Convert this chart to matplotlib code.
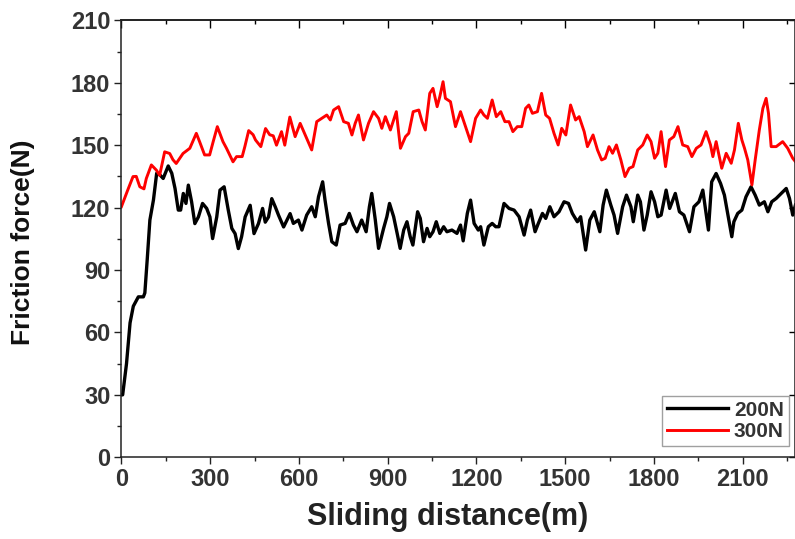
import matplotlib
matplotlib.use("Agg")
import matplotlib.pyplot as plt
from matplotlib.ticker import MultipleLocator

plt.rcParams['font.family'] = ['Liberation Sans', 'DejaVu Sans']
plt.rcParams['font.weight'] = 'bold'

# 300 N run
dist_300 = [0, 20, 39, 50, 62, 76, 84, 101, 118, 129, 146, 163, 174, 185, 208, 231, 253, 264,
            281, 298, 310, 324, 343, 355, 377, 389, 408, 417, 430, 445, 453, 471, 487, 501,
            513, 524, 541, 552, 569, 587, 604, 621, 643, 660, 677, 694, 706, 717, 734, 751,
            767, 779, 790, 801, 818, 835, 852, 869, 880, 892, 909, 929, 943, 960, 971, 986,
            1005, 1016, 1027, 1042, 1053, 1067, 1076, 1087, 1095, 1112, 1129, 1146, 1163,
            1180, 1197, 1214, 1225, 1237, 1253, 1267, 1282, 1296, 1310, 1323, 1338, 1353,
            1366, 1377, 1389, 1406, 1420, 1434, 1447, 1462, 1476, 1488, 1502, 1518, 1535,
            1547, 1564, 1575, 1594, 1609, 1623, 1635, 1648, 1660, 1673, 1688, 1702, 1716,
            1729, 1745, 1762, 1777, 1790, 1802, 1813, 1824, 1839, 1852, 1867, 1881, 1897,
            1914, 1928, 1943, 1959, 1976, 1991, 1999, 2010, 2029, 2044, 2061, 2072, 2085,
            2097, 2106, 2117, 2131, 2142, 2156, 2168, 2179, 2187, 2196, 2213, 2235, 2252,
            2269, 2278]
force_300 = [120.5, 128, 134.9, 135, 130, 129, 134, 140.5, 138, 135.5, 146.8, 146, 143, 141.2,
             146, 148.5, 155.7, 151.7, 145.3, 145.3, 151.7, 158.9, 151.7, 148.5, 142, 144.5,
             144.5, 149.3, 157, 155, 152.5, 149.3, 158, 155, 154.5, 150, 156.5, 150, 163.5,
             154.1, 160.5, 154.9, 147.7, 161.3, 162.9, 164.5, 162.1, 166.9, 168.5, 161.3,
             160.5, 154.9, 160.5, 164.5, 152.5, 160.5, 166.1, 162.9, 158.1, 163.7, 157.3,
             166.1, 148.5, 154.1, 155.7, 166.1, 166.9, 161.3, 157.3, 174.9, 177.3, 168.5,
             173.3, 180.5, 172.5, 170.9, 158.9, 166.1, 158.9, 151.7, 162.9, 166.9, 164.5,
             162.9, 171.7, 163.7, 166.1, 161.3, 161.3, 156.5, 158.9, 158.9, 167.7, 169.3,
             165.3, 166.1, 174.9, 164.5, 162.9, 155.7, 150.1, 158.1, 154.9, 169.3, 162.1,
             163.7, 156.5, 149.3, 154.9, 147.7, 142.9, 143.7, 149.3, 146.1, 150.1, 142.9,
             134.9, 138.9, 139.7, 147.7, 150.1, 154.9, 151.7, 143.7, 146.1, 156.5, 139.7,
             152.5, 154.1, 158.9, 150.1, 149.3, 144.5, 148.5, 150.1, 156.5, 150.1, 144.5,
             151.7, 138.9, 146.1, 141.3, 147.7, 160.5, 152.5, 148.5, 142.9, 130.9, 142.9,
             157.3, 167.7, 172.5, 165.3, 149.3, 149.3, 151.7, 148.5, 143.7, 142.1]

# 200 N run
dist_200 = [0, 4, 17, 29, 40, 57, 74, 79, 87, 96, 108, 119, 130, 141, 158, 170, 181, 192, 200,
            209, 218, 226, 237, 248, 260, 274, 288, 299, 308, 322, 333, 347, 361, 373, 384,
            395, 406, 418, 435, 448, 463, 477, 486, 497, 508, 520, 531, 548, 570, 581, 598,
            610, 626, 643, 655, 666, 680, 688, 700, 711, 726, 739, 756, 770, 784, 796, 812,
            827, 838, 846, 858, 869, 886, 897, 906, 920, 933, 942, 954, 965, 976, 985, 1001,
            1010, 1021, 1033, 1042, 1053, 1064, 1076, 1089, 1100, 1117, 1134, 1146, 1155,
            1169, 1180, 1192, 1206, 1214, 1225, 1240, 1253, 1265, 1276, 1293, 1310, 1327,
            1344, 1361, 1372, 1383, 1398, 1409, 1423, 1434, 1448, 1462, 1479, 1496, 1511,
            1524, 1541, 1552, 1569, 1583, 1598, 1617, 1628, 1639, 1654, 1665, 1677, 1694,
            1707, 1722, 1730, 1745, 1754, 1766, 1777, 1790, 1802, 1813, 1824, 1841, 1853,
            1872, 1886, 1901, 1920, 1935, 1952, 1965, 1984, 1995, 2010, 2025, 2038, 2052,
            2063, 2070, 2083, 2097, 2111, 2128, 2142, 2156, 2173, 2185, 2198, 2213, 2230,
            2247, 2258, 2269, 2278]
force_200 = [30, 30, 45, 64.6, 72.6, 77.1, 77.1, 79, 95, 114, 123.6, 136.5, 135.7, 134, 140,
             136.5, 129.2, 118.8, 118.8, 126.8, 122, 130.8, 122.8, 112.3, 115.5, 122, 119.6,
             115.5, 105.1, 115.5, 128.4, 130, 118.8, 110, 107.5, 100.3, 106, 115.5, 121.1,
             107.5, 112.3, 119.6, 113, 115.5, 124.3, 120.3, 116.3, 110.7, 117.1, 112.4, 114,
             109.2, 116.4, 120.4, 115.6, 125.2, 132.4, 123.6, 112.4, 103.6, 102, 111.6, 112.4,
             117.2, 111.6, 108.4, 114, 108.4, 120.4, 126.8, 114, 100.4, 110, 115.6, 122,
             115.6, 106.8, 100.4, 109.2, 113.2, 106, 102, 118, 114.8, 103.6, 110, 106, 108.4,
             113.2, 107.6, 110.8, 108.4, 109.2, 107.6, 111.6, 104, 117.2, 123.6, 112.4, 109.2,
             110.8, 102, 110.8, 112.4, 110.8, 110.8, 122, 119.6, 118.8, 115.6, 106.8, 114,
             118.8, 108.4, 112.4, 117.2, 114.8, 120.4, 115.6, 118, 122.8, 122, 117.2, 113.2,
             115.6, 99.6, 114, 118, 108.4, 121.2, 128.4, 121.2, 116.4, 107.6, 120.4, 126,
             120.4, 113.2, 126, 122.8, 109.2, 116.4, 127.6, 122.8, 115.6, 116.4, 128.4, 119.6,
             126.8, 118, 116.4, 108.4, 120.4, 122.8, 128.4, 109.2, 132.4, 136.4, 131.6, 126,
             114.8, 106, 113.2, 117.2, 118.8, 125.2, 130, 126, 121.2, 122.8, 118, 122.8,
             124.4, 126.8, 129.2, 124.4, 116.4, 121.2]

labels = ["200N", "300N"]

fig = plt.figure(figsize=(7.95, 5.39), dpi=100)
ax = fig.add_axes([0.1528, 0.1516, 0.8466, 0.8107])

ax.plot(dist_200, force_200, color="black", lw=2.4, label=labels[0])
ax.plot(dist_300, force_300, color="red", lw=2.1, label=labels[1])

ax.set_xlim(0, 2275)
ax.set_ylim(0, 210)
ax.xaxis.set_major_locator(MultipleLocator(300))
ax.xaxis.set_minor_locator(MultipleLocator(150))
ax.yaxis.set_major_locator(MultipleLocator(30))
ax.yaxis.set_minor_locator(MultipleLocator(15))

for sp in ax.spines.values():
    sp.set_linewidth(1.1)
    sp.set_color("#222222")

ax.tick_params(which="major", length=5, width=1, direction="out", color="#222222",
               labelsize=17, labelcolor="#333333", pad=3)
ax.tick_params(which="minor", length=3, width=1, direction="out", color="#222222")

# top and right: ticks pointing inward, no labels
top = ax.secondary_xaxis("top")
top.xaxis.set_major_locator(MultipleLocator(300))
top.xaxis.set_minor_locator(MultipleLocator(150))
top.tick_params(which="major", direction="in", length=6, width=1, labeltop=False)
top.tick_params(which="minor", direction="in", length=3, width=1)
top.spines["top"].set_linewidth(1.1)
right = ax.secondary_yaxis("right")
right.yaxis.set_major_locator(MultipleLocator(30))
right.yaxis.set_minor_locator(MultipleLocator(15))
right.tick_params(which="major", direction="in", length=4, width=1, labelright=False)
right.tick_params(which="minor", direction="in", length=0)

ax.set_xlabel("Sliding distance(m)", fontsize=22, fontweight="bold", color="#222222")
ax.set_ylabel("Friction force(N)", fontsize=19, fontweight="bold", color="#111111")
ax.xaxis.set_label_coords(0.485, -0.102)
ax.yaxis.set_label_coords(-0.128, 0.493)

leg = ax.legend(loc="lower right", bbox_to_anchor=(0.995, 0.02), fontsize=15,
                frameon=True, fancybox=False, handlelength=2.9, handletextpad=0.3,
                labelspacing=0.12, borderpad=0.25, borderaxespad=0.1)
leg.get_frame().set_edgecolor("#888888")
leg.get_frame().set_linewidth(1)
for t in leg.get_texts():
    t.set_color("#333333")
    t.set_fontweight("bold")

fig.savefig("out.png", dpi=100)
